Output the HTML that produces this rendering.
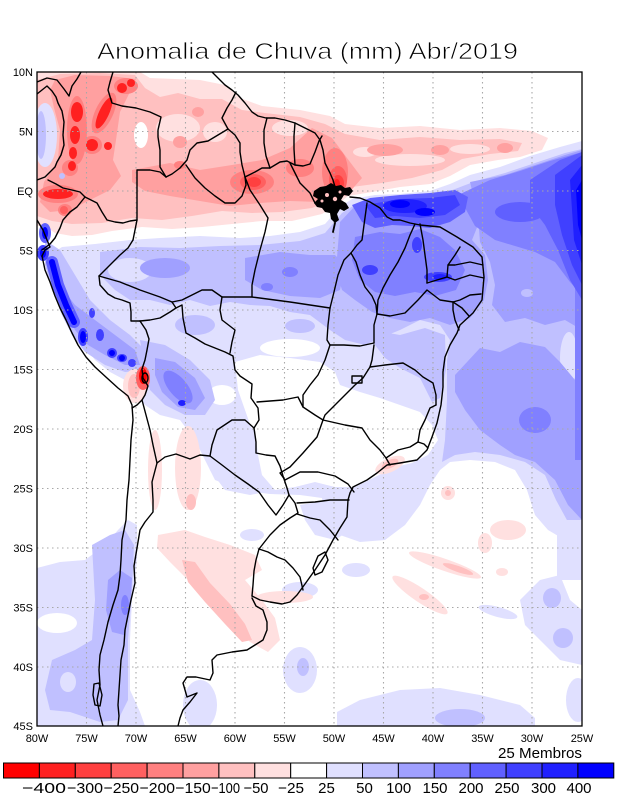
<!DOCTYPE html>
<html>
<head>
<meta charset="utf-8">
<style>
html,body{margin:0;padding:0;background:#fff;}
svg{display:block;font-family:"Liberation Sans","DejaVu Sans",sans-serif;}
</style>
</head>
<body>
<svg width="618" height="800" viewBox="0 0 618 800" xmlns="http://www.w3.org/2000/svg">
<defs>
<clipPath id="fr"><rect x="37" y="72" width="545" height="654"/></clipPath>
</defs>
<rect width="618" height="800" fill="#fff"/>

<text x="307.5" y="59" font-size="23" text-anchor="middle" textLength="421" lengthAdjust="spacingAndGlyphs" fill="#000" stroke="#fff" stroke-width="0.7" paint-order="fill">Anomalia de Chuva (mm) Abr/2019</text>

<g clip-path="url(#fr)">
<rect x="37" y="72" width="545" height="654" fill="#fff"/>

<!-- ===== PINK (north) ===== -->
<path fill="#ffe0e0" d="M37,72 L140,72 L150,78 L200,80 L225,85 L240,98 L262,106 L300,110 L330,116 L345,124 L380,128 L420,126 L460,130 L500,128 L532,131 L548,138 L542,150 L520,157 L498,160 L470,165 L450,176 L430,184 L400,187 L372,192 L348,196 L337,205 L322,214 L292,221 L262,221 L232,224 L202,227 L172,229 L142,227 L112,231 L92,235 L72,236 L55,233 L45,226 L37,226 Z"/>
<path fill="#ffc0c0" d="M37,80 L60,74 L100,73 L135,75 L145,88 L160,97 L178,93 L200,99 L222,99 L242,110 L265,113 L300,117 L325,124 L345,134 L380,140 L420,137 L460,140 L500,139 L522,143 L518,151 L490,154 L462,159 L442,170 L412,178 L382,183 L352,187 L337,198 L312,208 L282,212 L252,213 L222,211 L192,216 L162,220 L132,218 L102,223 L72,224 L52,221 L37,216 Z"/>
<ellipse cx="141" cy="135" rx="7" ry="13" fill="#fff"/>
<ellipse cx="178" cy="128" rx="22" ry="14" fill="#ffe0e0"/>
<ellipse cx="215" cy="132" rx="12" ry="10" fill="#ffe0e0"/>
<ellipse cx="290" cy="128" rx="18" ry="8" fill="#ffe0e0"/>
<ellipse cx="410" cy="160" rx="35" ry="6" fill="#ffe0e0"/>
<ellipse cx="470" cy="149" rx="20" ry="5" fill="#ffe0e0"/>
<ellipse cx="365" cy="152" rx="12" ry="5" fill="#ffe0e0"/>

<path fill="#ffa0a0" d="M55,80 L75,75 L110,76 L136,79 L128,96 L120,112 L116,140 L113,160 L121,176 L110,190 L90,200 L70,210 L50,212 L40,202 L44,182 L58,160 L60,130 L54,108 L50,90 Z"/>
<path fill="#ffa0a0" d="M132,170 L170,163 L200,170 L232,165 L262,160 L290,148 L312,128 L332,138 L347,158 L362,178 L347,195 L320,202 L290,201 L260,203 L230,206 L200,201 L170,196 L145,191 L132,182 Z"/>
<ellipse cx="385" cy="150" rx="18" ry="6" fill="#ffa0a0"/>
<ellipse cx="440" cy="150" rx="9" ry="5" fill="#ffa0a0"/>
<ellipse cx="505" cy="148" rx="8" ry="5" fill="#ffa0a0"/>
<ellipse cx="180" cy="142" rx="7" ry="6" fill="#ffa0a0"/>
<ellipse cx="198" cy="112" rx="6" ry="5" fill="#ffa0a0"/>

<ellipse cx="252" cy="182" rx="22" ry="12" fill="#ff8080"/>
<ellipse cx="335" cy="172" rx="13" ry="24" fill="#ff8080"/>
<ellipse cx="300" cy="168" rx="14" ry="9" fill="#ff8080"/>
<ellipse cx="253" cy="182" rx="13" ry="8" fill="#ff6060"/>
<ellipse cx="338" cy="180" rx="9" ry="14" fill="#ff6060"/>
<ellipse cx="254" cy="182" rx="7" ry="5" fill="#ff4040"/>
<ellipse cx="338" cy="183" rx="6" ry="8" fill="#ff4040"/>
<ellipse cx="337" cy="184" rx="3" ry="5" fill="#ff2020"/>
<ellipse cx="180" cy="165" rx="6" ry="4" fill="#ff8080"/>

<!-- Colombia red cores -->
<g fill="#ff8080">
<ellipse cx="77" cy="130" rx="10" ry="34"/>
<ellipse cx="104" cy="113" rx="9" ry="22" transform="rotate(25 104 113)"/>
<ellipse cx="92" cy="145" rx="10" ry="9"/>
<ellipse cx="126" cy="86" rx="12" ry="8"/>
<ellipse cx="70" cy="168" rx="8" ry="8"/>
<ellipse cx="58" cy="194" rx="20" ry="9"/>
<ellipse cx="65" cy="210" rx="7" ry="6"/>
</g>
<g fill="#ff2020">
<ellipse cx="77" cy="112" rx="6" ry="10"/>
<ellipse cx="75" cy="135" rx="5" ry="9"/>
<ellipse cx="73" cy="153" rx="4" ry="6"/>
<ellipse cx="104" cy="113" rx="5" ry="17" transform="rotate(25 104 113)"/>
<ellipse cx="92" cy="145" rx="6" ry="6"/>
<ellipse cx="122" cy="88" rx="5" ry="5"/>
<ellipse cx="131" cy="83" rx="4" ry="4"/>
<ellipse cx="72" cy="166" rx="4" ry="5"/>
<ellipse cx="58" cy="194" rx="15" ry="5"/>
<ellipse cx="108" cy="146" rx="4" ry="4"/>
</g>
<ellipse cx="64" cy="210" rx="4" ry="4" fill="#ff6060"/>
<ellipse cx="62" cy="176" rx="3" ry="3" fill="#c0c0ff"/>

<!-- Pacific blue off Colombia -->
<ellipse cx="45" cy="135" rx="12" ry="32" fill="#e0e0ff"/>
<ellipse cx="41" cy="135" rx="5" ry="24" fill="#c0c0ff"/>

<!-- ===== BLUE base ===== -->
<path fill="#e0e0ff" d="M62,247 L95,244 L130,240 L160,238 L200,236 L240,238 L270,236 L300,232 L325,224 L340,207 L352,199 L375,195 L400,194 L430,191 L450,184 L470,175 L500,167 L530,156 L560,147 L582,141 L582,545 L565,540 L548,530 L535,515 L527,490 L515,470 L495,462 L470,460 L450,462 L440,470 L430,485 L420,505 L405,525 L385,540 L360,542 L340,535 L325,518 L322,498 L300,495 L270,494 L240,490 L215,480 L205,460 L195,440 L180,420 L160,415 L145,405 L135,395 L125,380 L110,372 L95,360 L80,340 L68,318 L55,290 L48,268 L50,255 Z"/>
<path fill="#fff" d="M235,362 L260,355 L290,358 L320,362 L335,372 L340,385 L360,392 L380,398 L400,405 L420,412 L432,425 L438,440 L428,455 L412,463 L395,467 L375,477 L355,487 L335,487 L315,482 L295,487 L275,490 L260,478 L256,455 L252,430 L245,410 L238,390 Z"/>
<ellipse cx="290" cy="348" rx="30" ry="9" fill="#fff"/>
<ellipse cx="222" cy="395" rx="14" ry="10" fill="#fff"/>
<ellipse cx="500" cy="230" rx="14" ry="7" fill="#fff"/>

<path fill="#c0c0ff" d="M100,252 L140,247 L180,248 L220,246 L260,245 L300,241 L325,233 L342,213 L356,204 L380,201 L410,199 L436,196 L455,189 L476,181 L505,173 L535,163 L565,153 L582,149 L582,535 L568,522 L556,500 L545,475 L525,462 L500,455 L475,452 L455,455 L442,462 L445,440 L447,400 L447,360 L450,340 L440,325 L420,320 L400,330 L380,338 L365,345 L345,340 L330,330 L310,315 L290,312 L270,306 L250,305 L230,302 L210,306 L190,300 L170,305 L150,300 L130,300 L115,290 L100,275 Z"/>
<ellipse cx="500" cy="230" rx="10" ry="5" fill="#fff"/>
<ellipse cx="569" cy="358" rx="9" ry="26" fill="#e0e0ff"/>
<ellipse cx="195" cy="325" rx="20" ry="10" fill="#c0c0ff"/>
<ellipse cx="300" cy="326" rx="15" ry="7" fill="#c0c0ff"/>
<path fill="#c0c0ff" d="M372,330 L400,335 L425,328 L445,335 L446,370 L440,398 L432,402 L420,378 L400,368 L385,358 L375,345 Z"/>
<ellipse cx="345" cy="318" rx="25" ry="12" fill="#c0c0ff"/>
<ellipse cx="130" cy="270" rx="22" ry="12" fill="#e0e0ff"/>

<path fill="#a0a0ff" d="M245,258 L280,252 L310,255 L335,255 L345,265 L340,290 L320,298 L290,296 L262,290 L245,280 Z"/>
<ellipse cx="165" cy="268" rx="25" ry="10" fill="#a0a0ff"/>
<path fill="#a0a0ff" d="M340,222 L355,206 L380,203 L410,201 L437,200 L455,195 L470,205 L478,225 L472,240 L485,255 L488,280 L484,300 L470,318 L450,325 L430,318 L410,322 L390,318 L372,312 L355,300 L342,290 L336,270 L338,245 Z"/>
<path fill="#a0a0ff" d="M470,182 L505,175 L535,165 L565,155 L582,150 L582,330 L565,320 L545,325 L525,318 L505,322 L492,305 L495,285 L490,262 L480,242 L478,215 Z"/>
<path fill="#a0a0ff" d="M455,375 L480,348 L500,352 L520,342 L545,347 L560,362 L575,380 L582,400 L582,520 L568,505 L555,480 L535,462 L515,455 L500,445 L480,430 L465,410 L455,392 Z"/>
<ellipse cx="527" cy="293" rx="6" ry="4" fill="#c0c0ff"/>

<path fill="#8080ff" d="M355,237 L380,232 L400,234 L420,229 L440,237 L455,250 L465,270 L456,290 L435,296 L415,292 L395,296 L375,292 L360,280 L352,260 Z"/>
<path fill="#8080ff" d="M458,195 L490,180 L520,171 L550,161 L582,152 L582,295 L570,282 L555,262 L535,252 L515,246 L495,240 L475,226 Z"/>
<ellipse cx="535" cy="420" rx="16" ry="13" fill="#8080ff"/>
<rect x="575" y="260" width="7" height="200" fill="#8080ff"/>
<ellipse cx="267" cy="287" rx="6" ry="4" fill="#8080ff"/>
<ellipse cx="290" cy="272" rx="8" ry="5" fill="#8080ff"/>

<path fill="#6060ff" d="M352,205 L370,198 L400,195 L430,193 L455,190 L468,197 L465,212 L450,222 L430,228 L410,226 L392,225 L375,228 L362,222 Z"/>
<ellipse cx="520" cy="212" rx="25" ry="10" fill="#6060ff"/>
<path fill="#6060ff" d="M530,180 L560,160 L582,152 L582,300 L570,280 L558,250 L545,225 L530,205 Z"/>
<path fill="#4040ff" d="M365,205 L400,199 L430,198 L455,195 L460,205 L445,215 L420,218 L395,216 L375,218 Z"/>
<path fill="#4040ff" d="M555,175 L582,155 L582,285 L572,265 L562,235 L555,205 Z"/>
<path fill="#2020ff" d="M570,180 L582,165 L582,265 L574,240 Z"/>
<path fill="#0000ff" d="M576,190 L582,180 L582,240 L578,225 Z"/>
<ellipse cx="405" cy="206" rx="22" ry="7" fill="#2020ff"/>
<ellipse cx="400" cy="204" rx="10" ry="4" fill="#0000ff"/>
<ellipse cx="425" cy="212" rx="10" ry="4" fill="#0000ff"/>
<ellipse cx="370" cy="270" rx="8" ry="5" fill="#4040ff"/>
<ellipse cx="417" cy="245" rx="5" ry="8" fill="#4040ff"/>
<ellipse cx="438" cy="277" rx="14" ry="5" fill="#4040ff"/>
<ellipse cx="440" cy="277" rx="7" ry="3" fill="#2020ff"/>

<!-- Peru / Bolivia blue -->
<path fill="#c0c0ff" d="M45,240 L60,250 L75,275 L90,300 L110,320 L130,335 L145,350 L145,370 L125,372 L105,365 L85,352 L72,335 L62,315 L52,290 L45,265 Z"/>
<path fill="#a0a0ff" d="M58,283 L75,305 L95,320 L115,335 L135,350 L140,365 L125,365 L105,355 L88,345 L75,330 L65,310 Z"/>
<path fill="#c0c0ff" d="M140,340 L165,345 L190,360 L210,380 L215,400 L205,415 L185,415 L165,405 L150,390 L145,370 Z"/>
<path fill="#a0a0ff" d="M155,358 L175,362 L195,378 L205,398 L195,410 L178,407 L162,392 L155,375 Z"/>
<ellipse cx="178" cy="387" rx="9" ry="20" fill="#8080ff" transform="rotate(-40 178 387)"/>
<ellipse cx="182" cy="403" rx="4" ry="3" fill="#2020ff"/>
<polyline points="52,262 58,285 66,305 74,322" fill="none" stroke="#6060ff" stroke-width="12" stroke-linecap="round"/>
<polyline points="52,262 58,285 66,305 74,322" fill="none" stroke="#0000ff" stroke-width="6" stroke-linecap="round"/>
<ellipse cx="45" cy="233" rx="6" ry="10" fill="#6060ff"/>
<ellipse cx="45" cy="233" rx="3" ry="6" fill="#0000ff"/>
<ellipse cx="43" cy="253" rx="6" ry="8" fill="#4040ff"/>
<ellipse cx="43" cy="253" rx="3" ry="5" fill="#0000ff"/>
<g fill="#4040ff">
<ellipse cx="83" cy="337" rx="5" ry="9"/>
<ellipse cx="100" cy="335" rx="4" ry="6"/>
<ellipse cx="92" cy="313" rx="3" ry="5"/>
<ellipse cx="112" cy="353" rx="5" ry="5"/>
<ellipse cx="122" cy="358" rx="5" ry="4"/>
<ellipse cx="132" cy="363" rx="4" ry="4"/>
</g>
<g fill="#0000ff">
<ellipse cx="83" cy="337" rx="3" ry="6"/>
<ellipse cx="122" cy="358" rx="3" ry="3"/>
<ellipse cx="112" cy="353" rx="3" ry="3"/>
</g>
<ellipse cx="135" cy="386" rx="12" ry="17" fill="#ffe0e0"/>
<ellipse cx="134" cy="386" rx="6" ry="12" fill="#ffc0c0"/>
<ellipse cx="143" cy="378" rx="7" ry="12" fill="#ff6060"/>
<ellipse cx="143" cy="376" rx="4" ry="8" fill="#ff0000"/>

<!-- ===== South ===== -->
<path fill="#e0e0ff" d="M212,425 L240,420 L255,430 L258,455 L262,475 L275,490 L250,495 L225,490 L210,470 L205,445 Z"/>
<path fill="#e0e0ff" d="M300,505 L330,500 L345,510 L350,530 L335,540 L315,535 L305,520 Z"/>
<path fill="#e0e0ff" d="M37,568 L60,562 L85,560 L105,545 L118,530 L128,520 L137,525 L137,560 L132,600 L130,640 L130,690 L140,712 L145,726 L37,726 Z"/>
<ellipse cx="57" cy="623" rx="20" ry="10" fill="#fff"/>
<path fill="#c0c0ff" d="M92,545 L110,535 L125,530 L134,545 L132,590 L128,640 L128,700 L118,720 L100,722 L70,712 L50,710 L45,690 L52,660 L75,650 L92,640 L95,600 Z"/>
<ellipse cx="68" cy="682" rx="8" ry="10" fill="#e0e0ff"/>
<path fill="#a0a0ff" d="M108,580 L120,570 L132,578 L130,610 L124,635 L112,632 L106,610 Z"/>
<ellipse cx="125" cy="605" rx="4" ry="10" fill="#8080ff"/>
<ellipse cx="300" cy="670" rx="17" ry="23" fill="#e0e0ff"/>
<ellipse cx="303" cy="667" rx="6" ry="9" fill="#c0c0ff"/>
<ellipse cx="200" cy="705" rx="17" ry="25" fill="#e0e0ff"/>
<path fill="#e0e0ff" d="M337,712 L360,700 L400,690 L440,688 L480,695 L520,705 L535,718 L535,726 L337,726 Z"/>
<ellipse cx="460" cy="718" rx="25" ry="9" fill="#c0c0ff"/>
<path fill="#e0e0ff" d="M520,600 L540,580 L560,575 L570,600 L582,610 L582,665 L560,660 L540,640 L525,625 Z"/>
<ellipse cx="552" cy="598" rx="9" ry="10" fill="#c0c0ff"/>
<ellipse cx="563" cy="638" rx="10" ry="10" fill="#c0c0ff"/>
<rect x="557" y="520" width="25" height="60" fill="#e0e0ff"/>
<ellipse cx="578" cy="700" rx="12" ry="22" fill="#e0e0ff"/>
<ellipse cx="356" cy="570" rx="14" ry="7" fill="#e0e0ff"/>
<ellipse cx="498" cy="612" rx="20" ry="5" fill="#e0e0ff" transform="rotate(15 498 612)"/>
<ellipse cx="252" cy="535" rx="12" ry="6" fill="#e0e0ff"/>
<ellipse cx="300" cy="590" rx="18" ry="8" fill="#e0e0ff"/>

<path fill="#ffe0e0" d="M158,535 L185,530 L205,537 L230,545 L255,555 L262,570 L245,580 L262,600 L275,618 L280,640 L268,652 L250,642 L232,622 L212,602 L190,582 L170,562 L157,548 Z"/>
<path fill="#ffc0c0" d="M182,560 L195,562 L210,583 L230,604 L245,624 L252,640 L242,642 L225,624 L205,602 L188,582 Z"/>
<ellipse cx="155" cy="470" rx="7" ry="40" fill="#ffe0e0"/>
<ellipse cx="188" cy="468" rx="13" ry="42" fill="#ffe0e0"/>
<ellipse cx="191" cy="502" rx="5" ry="8" fill="#ffc0c0"/>
<ellipse cx="390" cy="465" rx="16" ry="7" fill="#ffe0e0" transform="rotate(-25 390 465)"/>
<ellipse cx="390" cy="464" rx="9" ry="4" fill="#ffc0c0" transform="rotate(-25 390 464)"/>
<ellipse cx="445" cy="565" rx="38" ry="6" fill="#ffe0e0" transform="rotate(19 445 565)"/>
<ellipse cx="458" cy="569" rx="16" ry="3" fill="#ffc0c0" transform="rotate(19 458 569)"/>
<ellipse cx="420" cy="595" rx="33" ry="7" fill="#ffe0e0" transform="rotate(34 420 595)"/>
<ellipse cx="424" cy="597" rx="5" ry="3" fill="#ffc0c0"/>
<ellipse cx="508" cy="530" rx="18" ry="10" fill="#ffe0e0"/>
<ellipse cx="485" cy="543" rx="7" ry="10" fill="#ffe0e0"/>
<ellipse cx="502" cy="572" rx="6" ry="4" fill="#ffe0e0"/>
<ellipse cx="448" cy="493" rx="7" ry="7" fill="#ffe0e0"/>
<ellipse cx="448" cy="493" rx="3" ry="3" fill="#ffc0c0"/>
<ellipse cx="285" cy="597" rx="28" ry="6" fill="#ffe0e0"/>
<ellipse cx="190" cy="545" rx="12" ry="5" fill="#ffe0e0"/>

<!-- grid -->
<g stroke="#a8a8a8" stroke-width="1.1" stroke-dasharray="1.5,3.5" fill="none">
<path d="M86.5,72V726M136,72V726M185.5,72V726M235,72V726M284.5,72V726M334,72V726M383.5,72V726M433,72V726M482.5,72V726M532,72V726"/>
<path d="M37,131.5H582M37,191H582M37,250.5H582M37,310H582M37,369.5H582M37,429H582M37,488.5H582M37,548H582M37,607.5H582M37,667H582"/>
</g>

<!-- Amazon mouth cluster (filled) -->
<path fill="#000" d="M314,191 L320,187 L326,186 L331,183 L336,186 L341,185 L345,188 L350,187 L353,191 L349,196 L344,195 L341,200 L346,203 L349,208 L344,211 L340,209 L337,214 L339,220 L335,223 L331,219 L330,213 L325,212 L322,208 L317,207 L314,203 L318,199 L313,196 Z"/>
<g fill="#ffc0c0">
<circle cx="327" cy="195" r="2"/>
<circle cx="335" cy="199" r="2.2"/>
<circle cx="322" cy="201" r="1.5"/>
<circle cx="340" cy="192" r="1.5"/>
</g>

<!-- coast & borders -->
<g fill="none" stroke="#000" stroke-width="1.4" stroke-linejoin="round" stroke-linecap="round">
<path d="M37,82 L47,78 L57,80 L64,89 L69,96 L72,86 L77,79 L81,72"/>
<path d="M37,94 L42,90 L47,86 L52,91 L56,97 L58,103 L62,111 L64,122 L63,135 L64,145 L61,155 L57,162 L55,167 L48,174 L45,177 L37,180"/>
<path d="M37,220 L43,230 L47,240 L50,247 L45,250 L42,256"/>
<path d="M42,256 L45,270 L50,282 L55,296 L60,308 L66,320 L72,333 L78,345 L86,357 L95,367 L107,378 L118,388 L128,396 L132,405 L133,420 L131,440 L130,460 L129,480 L127,500 L126,520 L122,540 L121,560 L120,575 L118,590 L113,605 L108,622 L104,640 L100,655 L99,670 L100,685 L97,700 L100,715 L103,726"/>
<path d="M94,684 L99,683 L102,695 L100,706 L95,705 L93,695 Z"/>
<path d="M212,72 L218,78 L225,85 L232,90 L238,95 L245,103 L252,112 L258,116 L266,118 L275,118 L285,120 L295,123 L305,128 L315,133 L320,140 L323,150 L325,163 L330,173 L333,180 L335,187"/>
<path d="M350,197 L360,198 L370,202 L380,208 L387,217 L393,220 L400,220 L410,223 L420,225 L440,227 L457,237 L473,247 L482,257 L484,277 L482,300 L473,313 L460,325 L457,333 L450,345 L445,357 L443,372 L443,387 L441,405 L437,423 L432,437 L427,450 L417,460 L400,463 L387,465 L377,473 L367,480 L353,487 L350,493 L348,500 L347,517 L340,528 L333,540 L325,555 L315,570 L305,584 L297,595 L290,602 L282,604 L270,602 L260,600 L252,596"/>
<path d="M252,598 L256,606 L263,610 L267,622 L267,630 L263,640 L247,650 L232,652 L217,655 L212,660 L213,673 L210,680 L196,677 L187,677 L183,683 L187,697 L197,693 L190,702 L183,710 L180,718 L178,726"/>
<path d="M318,556 L325,552 L328,560 L322,572 L315,575 L313,568 Z"/>
<path d="M335,223 L333,232" stroke-width="1.8"/>
<ellipse cx="145" cy="378" rx="3" ry="5"/>
<!-- countries -->
<path d="M113,72 L110,82 L108,90 L112,103 L122,106 L136,108 L150,112 L161,117 L158,130 L158,137 L160,150 L160,167 L166,177"/>
<path d="M166,177 L160,172 L150,170 L137,170 L137,185 L137,200 L137,220 L133,240"/>
<path d="M48,180 L56,184 L63,188 L72,190 L80,192 L85,197"/>
<path d="M85,197 L97,203 L102,212 L107,220 L115,222 L123,223 L130,221 L137,220"/>
<path d="M42,250 L50,244 L55,238 L60,228 L63,220 L70,212 L77,207 L85,197"/>
<path d="M133,240 L128,248 L120,255 L113,262 L107,268 L99,276 L100,285 L108,294 L115,298 L122,300 L130,303 L131,312 L131,321 L140,321"/>
<path d="M140,321 L146,330 L149,339 L147,350 L145,360 L142,369 L143,378 L148,386 L145,395 L142,400 L137,405 L132,408"/>
<path d="M142,400 L146,415 L150,430 L153,445 L157,463"/>
<path d="M140,321 L150,320 L160,318 L170,312 L176,308 L182,305 L183,318 L186,333 L195,338 L205,344 L215,348 L225,352 L233,356 L235,370 L240,376 L252,384 L251,398 L258,408 L259,420 L254,428"/>
<path d="M254,428 L245,420 L232,420 L217,430 L212,445 L210,456"/>
<path d="M157,463 L165,457 L176,454 L190,459 L200,455 L210,456"/>
<path d="M254,428 L256,442 L256,453 L266,455 L275,456 L280,466 L283,476 L287,488 L289,495"/>
<path d="M210,456 L222,465 L235,475 L248,484 L259,492 L268,505 L276,515 L283,505 L289,495"/>
<path d="M289,495 L295,503 L298,513 L290,518 L280,525 L270,535 L259,549"/>
<path d="M259,549 L268,552 L277,557 L285,560 L293,568 L300,577 L303,590"/>
<path d="M259,549 L256,560 L254,571 L253,585 L252,596"/>
<path d="M157,463 L152,482 L153,500 L153,512 L145,522 L140,530 L137,548 L134,566 L135,583 L131,600 L128,615 L125,630 L124,645 L121,660 L120,675 L119,690 L118,705 L119,716 L118,726"/>
<path d="M236,92 L232,100 L227,108 L222,118 L228,129"/>
<path d="M228,129 L218,135 L208,141 L197,143 L190,150 L187,160 L180,168 L172,174 L166,177"/>
<path d="M228,129 L235,135 L240,143 L240,152 L242,165 L245,177 L255,172 L262,168 L270,168"/>
<path d="M267,118 L264,130 L264,143 L266,156 L270,168"/>
<path d="M270,168 L280,162 L287,161 L295,165"/>
<path d="M295,123 L294,136 L294,149 L295,165"/>
<path d="M295,165 L303,166 L310,164 L315,152 L319,141 L322,136"/>
<!-- Brazil states -->
<path d="M186,165 L195,178 L205,188 L215,196 L225,203 L235,203 L242,196 L246,185 L245,177"/>
<path d="M245,177 L250,190 L260,205 L268,218 L265,232 L260,250 L255,270 L252,285 L252,297"/>
<path d="M290,163 L300,183 L310,193 L315,203"/>
<path d="M99,276 L120,282 L140,290 L160,297 L172,302 L176,308"/>
<path d="M172,302 L182,300 L192,295 L202,290 L212,290 L222,297"/>
<path d="M222,297 L220,310 L222,320 L235,330 L232,342 L230,353"/>
<path d="M222,297 L252,297 L290,302 L330,308"/>
<path d="M330,308 L334,292 L338,275 L344,260 L351,253"/>
<path d="M351,253 L357,245 L362,240 L364,225 L367,203"/>
<path d="M351,253 L356,262 L360,275 L365,287 L372,296 L376,305 L377,314"/>
<path d="M415,224 L410,235 L405,248 L398,262 L390,275 L383,288 L378,300 L377,314"/>
<path d="M377,314 L374,325 L374,343"/>
<path d="M374,343 L360,346 L344,345 L330,345"/>
<path d="M330,308 L328,325 L327,340 L330,345 L325,360 L318,375 L310,385 L303,395 L303,407"/>
<path d="M257,402 L270,401 L283,400 L298,397 L303,407 L315,415 L323,420"/>
<path d="M323,420 L317,437 L303,453 L290,467 L280,473 L285,480"/>
<path d="M323,420 L345,425 L362,428 L370,440 L380,450 L386,458 L390,465"/>
<path d="M285,480 L300,472 L318,472 L335,476 L348,484 L354,492"/>
<path d="M297,503 L315,502 L330,500 L349,500"/>
<path d="M297,514 L310,518 L320,520 L330,530 L338,540"/>
<path d="M386,458 L398,450 L410,447 L418,442 L424,444 L428,448"/>
<path d="M418,442 L420,430 L425,420 L430,408 L436,405"/>
<path d="M374,345 L372,360 L370,367 L385,365 L403,363 L415,370 L423,377 L433,383 L436,395 L436,405"/>
<path d="M370,367 L363,378 L355,385 L345,395 L335,405 L325,415 L323,420"/>
<rect x="352" y="376" width="10" height="7"/>
<path d="M377,314 L390,316 L405,313 L418,300 L427,290 L440,300 L453,302"/>
<path d="M420,224 L423,240 L425,255 L427,270 L427,283"/>
<path d="M460,247 L455,255 L448,265 L447,277"/>
<path d="M427,283 L437,280 L447,277"/>
<path d="M483,265 L470,262 L455,265 L448,265"/>
<path d="M484,278 L470,275 L455,280 L447,277"/>
<path d="M481,294 L470,295 L460,300 L453,302"/>
<path d="M469,316 L462,308 L453,302"/>
<path d="M459,330 L455,320 L453,310 L453,302"/>
</g>
</g>

<rect x="37" y="72" width="545" height="654" fill="none" stroke="#000" stroke-width="1.3"/>

<g font-size="11" fill="#000" text-anchor="middle">
<text x="37" y="742">80W</text>
<text x="86.5" y="742">75W</text>
<text x="136" y="742">70W</text>
<text x="185.5" y="742">65W</text>
<text x="235" y="742">60W</text>
<text x="284.5" y="742">55W</text>
<text x="334" y="742">50W</text>
<text x="383.5" y="742">45W</text>
<text x="433" y="742">40W</text>
<text x="482.5" y="742">35W</text>
<text x="532" y="742">30W</text>
<text x="582" y="742">25W</text>
</g>
<g font-size="11" fill="#000" text-anchor="end">
<text x="33" y="76">10N</text>
<text x="33" y="135.5">5N</text>
<text x="33" y="195">EQ</text>
<text x="33" y="254.5">5S</text>
<text x="33" y="314">10S</text>
<text x="33" y="373.5">15S</text>
<text x="33" y="433">20S</text>
<text x="33" y="492.5">25S</text>
<text x="33" y="552">30S</text>
<text x="33" y="611.5">35S</text>
<text x="33" y="671">40S</text>
<text x="33" y="730">45S</text>
</g>

<text x="498" y="758" font-size="15" textLength="84" lengthAdjust="spacingAndGlyphs" fill="#000">25 Membros</text>

<g stroke="#000" stroke-width="1">
<rect x="3.5" y="763" width="35.9" height="15" fill="#ff0000"/>
<rect x="39.4" y="763" width="35.9" height="15" fill="#ff2020"/>
<rect x="75.3" y="763" width="35.9" height="15" fill="#ff4040"/>
<rect x="111.2" y="763" width="35.9" height="15" fill="#ff6060"/>
<rect x="147.1" y="763" width="35.9" height="15" fill="#ff8080"/>
<rect x="183" y="763" width="35.9" height="15" fill="#ffa0a0"/>
<rect x="218.9" y="763" width="35.9" height="15" fill="#ffc0c0"/>
<rect x="254.8" y="763" width="35.9" height="15" fill="#ffe0e0"/>
<rect x="290.7" y="763" width="35.9" height="15" fill="#ffffff"/>
<rect x="326.6" y="763" width="35.9" height="15" fill="#e0e0ff"/>
<rect x="362.5" y="763" width="35.9" height="15" fill="#c0c0ff"/>
<rect x="398.4" y="763" width="35.9" height="15" fill="#a0a0ff"/>
<rect x="434.3" y="763" width="35.9" height="15" fill="#8080ff"/>
<rect x="470.2" y="763" width="35.9" height="15" fill="#6060ff"/>
<rect x="506.1" y="763" width="35.9" height="15" fill="#4040ff"/>
<rect x="542" y="763" width="35.9" height="15" fill="#2020ff"/>
<rect x="577.9" y="763" width="35.9" height="15" fill="#0000ff"/>
</g>
<g font-size="15" fill="#000">
<text x="22" y="793" textLength="44" lengthAdjust="spacingAndGlyphs">−400</text>
<text x="67" y="793" textLength="36" lengthAdjust="spacingAndGlyphs">−300</text>
<text x="103.5" y="793" textLength="35.5" lengthAdjust="spacingAndGlyphs">−250</text>
<text x="139.5" y="793" textLength="35.5" lengthAdjust="spacingAndGlyphs">−200</text>
<text x="175.3" y="793" textLength="35.5" lengthAdjust="spacingAndGlyphs">−150</text>
<text x="211" y="793" textLength="29" lengthAdjust="spacingAndGlyphs">−100</text>
<text x="243.5" y="793" textLength="25" lengthAdjust="spacingAndGlyphs">−50</text>
<text x="278" y="793" textLength="26" lengthAdjust="spacingAndGlyphs">−25</text>
</g>
<g font-size="15" fill="#000" text-anchor="middle">
<text x="326.5" y="793">25</text>
<text x="364.5" y="793">50</text>
<text x="398.7" y="793">100</text>
<text x="435" y="793">150</text>
<text x="471" y="793">200</text>
<text x="507" y="793">250</text>
<text x="543.5" y="793">300</text>
<text x="579" y="793">400</text>
</g>
</svg>
</body>
</html>
